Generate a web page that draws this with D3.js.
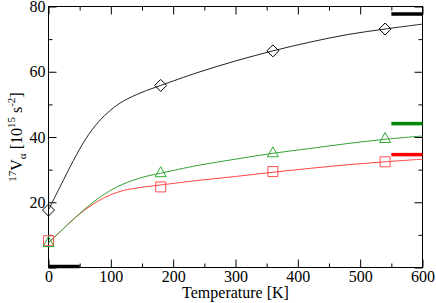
<!DOCTYPE html>
<html>
<head>
<meta charset="utf-8">
<script src="https://cdn.jsdelivr.net/npm/d3@7"></script>
<style>
  body { margin: 0; background: #fff; }
  svg text { font-family: "Liberation Serif", "DejaVu Serif", serif; }
</style>
</head>
<body>
<div id="chart"></div>
<script>
// measured points (markers)
var tempPts = [0, 180, 360, 540]
var blackPts = [17.6, 55.8, 66.4, 73.1]
var greenPts = [7.5, 28.9, 35.0, 39.4]
var redPts = [8.2, 24.7, 29.4, 32.4]

// fitted curves
var curveT = [0, 10, 20, 40, 60, 80, 100, 120, 150, 180, 240, 300, 360, 420, 480, 540, 600]
var blackFit = [17.6, 21.5, 25.3, 32.8, 39.5, 44.6, 48.3, 51.0, 53.7, 55.8, 59.8, 63.3, 66.4, 69.1, 71.4, 73.1, 74.6]
var greenFit = [7.6, 9.4, 11.2, 14.8, 18.2, 21.2, 23.7, 25.6, 27.6, 28.9, 31.3, 33.2, 35.0, 36.5, 38.0, 39.3, 40.3]
var redFit = [7.6, 9.4, 11.2, 14.8, 17.9, 20.4, 22.3, 23.6, 24.6, 25.3, 26.7, 27.9, 29.2, 30.4, 31.5, 32.4, 33.2]

// reference bars
var refBars = [
  {x0: 0, x1: 50, v: 0, color: '#000'},
  {x0: 550, x1: 600, v: 77.7, color: '#000'},
  {x0: 550, x1: 600, v: 44.1, color: '#008800'},
  {x0: 550, x1: 600, v: 34.6, color: '#ff0000'}
]

var xMajor = [0, 100, 200, 300, 400, 500, 600]
var xMinor = [50, 150, 250, 350, 450, 550]
var yMajor = [0, 20, 40, 60, 80]
var yMinor = [10, 30, 50, 70]

var W = 436, H = 303
var margin = {top: 6.5, right: 13.5, bottom: 35.5, left: 48.5}
var iw = W - margin.left - margin.right
var ih = H - margin.top - margin.bottom

var svg = d3.select('#chart').append('svg')
  .attr('width', W)
  .attr('height', H)

var g = svg.append('g')
  .attr('transform', 'translate(' + margin.left + ',' + margin.top + ')')

var x = d3.scaleLinear().domain([0, 600]).range([0, iw])
var y = d3.scaleLinear().domain([0, 80]).range([ih, 0])

// axes with inward ticks
function addAxis (axis, tr, vals, size, labels) {
  var a = g.append('g')
    .attr('transform', tr)
    .call(axis.tickValues(vals).tickSize(-size).tickPadding(3).tickFormat(labels ? d3.format('d') : ''))
  a.select('.domain').remove()
  a.selectAll('text').attr('font-size', 16).attr('fill', '#000')
  a.selectAll('line').attr('stroke', '#000')
  return a
}
addAxis(d3.axisBottom(x), 'translate(0,' + ih + ')', xMajor, 8, true)
addAxis(d3.axisBottom(x), 'translate(0,' + ih + ')', xMinor, 4, false)
addAxis(d3.axisTop(x), 'translate(0,0)', xMajor, 8, false)
addAxis(d3.axisTop(x), 'translate(0,0)', xMinor, 4, false)
addAxis(d3.axisLeft(y), 'translate(0,0)', yMajor.filter(function (d) { return d > 0 }), 8, true)
addAxis(d3.axisLeft(y), 'translate(0,0)', [0], 8, false)
addAxis(d3.axisLeft(y), 'translate(0,0)', yMinor, 4, false)
addAxis(d3.axisRight(y), 'translate(' + iw + ',0)', yMajor, 8, false)
addAxis(d3.axisRight(y), 'translate(' + iw + ',0)', yMinor, 4, false)

g.append('rect')
  .attr('x', 0).attr('y', 0)
  .attr('width', iw).attr('height', ih)
  .attr('fill', 'none')
  .attr('stroke', '#000')
  .attr('stroke-width', 1)

// fitted curves
var line = d3.line()
  .x(function (d) { return x(d[0]) })
  .y(function (d) { return y(d[1]) })
  .curve(d3.curveCatmullRom.alpha(0.5))

var series = [
  {fit: blackFit, pts: blackPts, color: '#000', lineColor: '#222', shape: 'diamond'},
  {fit: redFit, pts: redPts, color: '#ff5050', lineColor: '#ff4444', shape: 'square'},
  {fit: greenFit, pts: greenPts, color: '#33aa33', lineColor: '#33a033', shape: 'triangle'}
]

series.forEach(function (s) {
  g.append('path')
    .datum(curveT.map(function (t, i) { return [t, s.fit[i]] }))
    .attr('d', line)
    .attr('fill', 'none')
    .attr('stroke', s.lineColor)
    .attr('stroke-width', 1)
})

var shapes = {
  diamond: 'M0,-6L6,0L0,6L-6,0Z',
  square: 'M-5,-5H5V5H-5Z',
  triangle: 'M0,-6.5L5.5,3.5H-5.5Z'
}

series.forEach(function (s) {
  g.selectAll(null)
    .data(tempPts.map(function (t, i) { return [t, s.pts[i]] }))
    .enter()
    .append('path')
    .attr('transform', function (d) { return 'translate(' + x(d[0]) + ',' + y(d[1]) + ')' })
    .attr('d', shapes[s.shape])
    .attr('fill', 'none')
    .attr('stroke', s.color)
    .attr('stroke-width', 1)
})

// thick reference bars
g.selectAll('.refbar')
  .data(refBars)
  .enter()
  .append('line')
  .attr('class', 'refbar')
  .attr('x1', function (d) { return x(d.x0) })
  .attr('x2', function (d) { return x(d.x1) })
  .attr('y1', function (d) { return y(d.v) - (d.v === 0 ? 1 : 0) })
  .attr('y2', function (d) { return y(d.v) - (d.v === 0 ? 1 : 0) })
  .attr('stroke', function (d) { return d.color })
  .attr('stroke-width', 3.5)

// axis titles
svg.append('text')
  .attr('x', margin.left + iw / 2)
  .attr('y', 298)
  .attr('text-anchor', 'middle')
  .attr('font-size', 16)
  .text('Temperature [K]')

var yl = svg.append('text')
  .attr('transform', 'translate(22,137) rotate(-90)')
  .attr('text-anchor', 'middle')
  .attr('font-size', 16)
yl.append('tspan').attr('font-size', 11).attr('dy', -6).text('17')
yl.append('tspan').attr('dy', 6).text('V')
yl.append('tspan').attr('font-size', 11).attr('dy', 4).text('α')
yl.append('tspan').attr('dy', -4).text(' [10')
yl.append('tspan').attr('font-size', 11).attr('dy', -7).text('15')
yl.append('tspan').attr('dy', 7).text(' s')
yl.append('tspan').attr('font-size', 11).attr('dy', -7).text('-2')
yl.append('tspan').attr('dy', 7).text(']')
</script>
</body>
</html>
